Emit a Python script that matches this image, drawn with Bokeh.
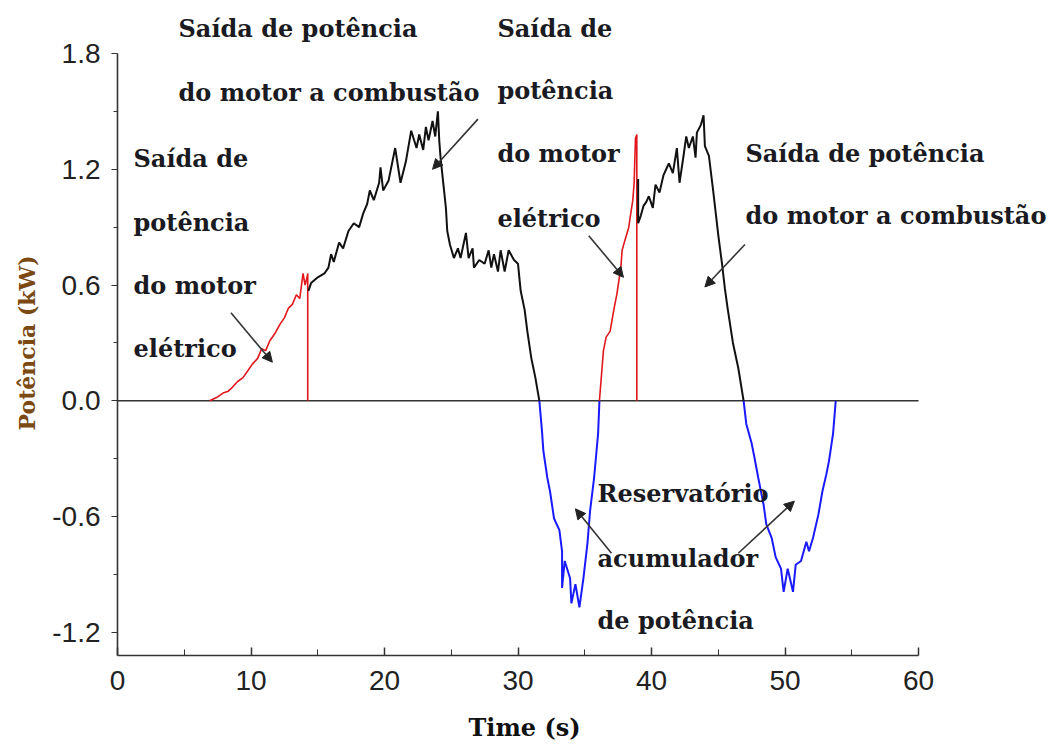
from bokeh.plotting import figure
from bokeh.models import (Label, Arrow, NormalHead, FixedTicker,
                          PrintfTickFormatter, Range1d, Title)
from bokeh.embed import file_html
from bokeh.resources import INLINE

# ---------------- data ----------------
red1_x = [6.9, 7.5, 7.9, 8.3, 8.6, 9.0, 9.4, 9.8, 10.1, 10.5, 10.8, 11.1, 11.4, 11.8,
          12.2, 12.5, 12.8, 13.1, 13.4, 13.65, 13.9, 14.05, 14.2, 14.25, 14.25]
red1_y = [0.0, 0.02, 0.04, 0.05, 0.07, 0.10, 0.12, 0.16, 0.19, 0.22, 0.27, 0.26, 0.31, 0.35,
          0.40, 0.43, 0.48, 0.50, 0.55, 0.53, 0.66, 0.60, 0.64, 0.66, 0.0]

black1_x = [14.3, 14.5, 15.0, 15.5, 15.8, 16.0, 16.2, 16.6, 16.9, 17.3, 17.7, 18.1, 18.4,
            18.7, 18.9, 19.2, 19.6, 19.7, 19.9, 20.3, 20.8, 21.2, 21.6, 22.0, 22.4, 22.6,
            22.9, 23.1, 23.3, 23.6, 23.8, 24.0, 24.1, 24.2, 24.4, 24.6, 24.7, 24.9, 25.2,
            25.5, 25.7, 26.1, 26.3, 26.6, 26.7, 27.1, 27.5, 27.8, 28.0, 28.2, 28.5, 28.7,
            29.0, 29.3, 29.7, 30.0, 30.2, 30.5, 30.7, 31.0, 31.3, 31.6]
black1_y = [0.57, 0.61, 0.64, 0.66, 0.69, 0.76, 0.72, 0.82, 0.79, 0.88, 0.92, 0.90, 0.97,
            1.02, 1.09, 1.04, 1.13, 1.21, 1.09, 1.14, 1.31, 1.13, 1.24, 1.40, 1.31, 1.38,
            1.30, 1.42, 1.35, 1.45, 1.37, 1.50, 1.35, 1.26, 1.13, 1.00, 0.88, 0.81, 0.74,
            0.79, 0.74, 0.87, 0.74, 0.79, 0.69, 0.73, 0.71, 0.78, 0.69, 0.76, 0.67, 0.78,
            0.67, 0.78, 0.73, 0.71, 0.57, 0.47, 0.36, 0.22, 0.12, 0.0]

blue1_x = [31.6, 31.8, 31.9, 32.2, 32.4, 32.7, 33.1, 33.3, 33.3, 33.5, 33.9, 34.0, 34.3,
           34.6, 34.9, 35.2, 35.4, 35.7, 36.0, 36.1]
blue1_y = [0.0, -0.16, -0.26, -0.40, -0.47, -0.61, -0.67, -0.78, -0.97, -0.83, -0.92, -1.05,
           -0.95, -1.07, -0.92, -0.74, -0.57, -0.40, -0.17, 0.0]

red2_x = [36.1, 36.4, 36.6, 36.9, 37.2, 37.4, 37.7, 37.8, 38.0, 38.3, 38.4, 38.6, 38.7,
          38.8, 38.9, 38.9]
red2_y = [0.0, 0.26, 0.33, 0.36, 0.48, 0.55, 0.69, 0.78, 0.83, 0.90, 0.95, 1.04, 1.13,
          1.36, 1.38, 0.0]

black2_x = [39.0, 39.0, 39.2, 39.4, 39.6, 39.8, 40.1, 40.3, 40.6, 40.9, 41.1, 41.3, 41.6,
            41.9, 42.1, 42.4, 42.6, 42.8, 43.1, 43.3, 43.4, 43.7, 43.9, 44.0, 44.3, 44.6,
            44.8, 45.0, 45.3, 45.5, 45.7, 46.1, 46.5, 46.9]
black2_y = [1.15, 0.92, 0.96, 1.01, 1.03, 1.06, 1.00, 1.12, 1.08, 1.17, 1.20, 1.23, 1.18,
            1.31, 1.13, 1.27, 1.37, 1.31, 1.37, 1.26, 1.39, 1.43, 1.48, 1.32, 1.27, 1.10,
            0.98, 0.86, 0.70, 0.58, 0.48, 0.30, 0.17, 0.0]

blue2_x = [46.9, 47.1, 47.5, 47.7, 48.0, 48.4, 48.6, 49.0, 49.3, 49.7, 49.9, 50.2, 50.6,
           50.8, 51.2, 51.6, 51.8, 52.1, 52.5, 52.8, 53.1, 53.3, 53.6, 53.8]
blue2_y = [0.0, -0.12, -0.22, -0.29, -0.40, -0.54, -0.64, -0.71, -0.81, -0.87, -0.99, -0.87,
           -0.99, -0.85, -0.83, -0.73, -0.78, -0.71, -0.59, -0.47, -0.38, -0.31, -0.17, 0.0]

x_ticks = [0, 10, 20, 30, 40, 50, 60]
x_minor = [5, 15, 25, 35, 45, 55]
y_ticks = [-1.2, -0.6, 0.0, 0.6, 1.2, 1.8]
y_minor = [-0.9, -0.3, 0.3, 0.9, 1.5]
x_axis_span = (0, 60)
y_axis_span = (-1.32, 1.8)
x_label = "Time (s)"
y_label = "Potência (kW)"

# annotation texts: (text lines, x, y of each line)
blocks = [
    (["Saída de potência", "do motor a combustão"], 4.57, [1.928, 1.596]),
    (["Saída de", "potência", "do motor", "elétrico"], 28.46, [1.928, 1.607, 1.280, 0.943]),
    (["Saída de", "potência", "do motor", "elétrico"], 1.20, [1.254, 0.922, 0.596, 0.270]),
    (["Saída de potência", "do motor a combustão"], 47.04, [1.280, 0.959]),
    (["Reservatório", "acumulador", "de potência"], 35.96, [-0.482, -0.819, -1.140]),
]

# arrows: (tail x, tail y, head x, head y)
arrows = [
    (8.5, 0.456, 11.6, 0.20),
    (27.0, 1.46, 23.6, 1.20),
    (35.3, 0.856, 37.9, 0.64),
    (47.0, 0.81, 44.0, 0.59),
    (37.0, -0.79, 34.3, -0.56),
    (46.5, -0.79, 50.7, -0.52),
]

# ---------------- figure ----------------
PX_X = 801 / 60.0       # pixels per second
PX_Y = 602 / 3.12       # pixels per kW
FW, FH = 930, 655
p = figure(frame_width=FW, frame_height=FH, output_backend="svg",
           toolbar_location=None,
           x_range=Range1d(0, FW / PX_X),
           y_range=Range1d(y_axis_span[0], y_axis_span[0] + FH / PX_Y),
           min_border_left=117, min_border_right=0, min_border_top=0,
           min_border_bottom=88)
p.outline_line_color = None
p.xgrid.visible = False
p.ygrid.visible = False
p.background_fill_color = "white"
p.border_fill_color = "white"

# zero reference line across the axis span
p.line(list(x_axis_span), [0, 0], line_color="#333333", line_width=1.6)

p.line(red1_x, red1_y, line_color="#e0181c", line_width=1.6)
p.line(black1_x, black1_y, line_color="#111111", line_width=2)
p.line(blue1_x, blue1_y, line_color="#1a1aff", line_width=2)
p.line(red2_x, red2_y, line_color="#e0181c", line_width=1.6)
p.line(black2_x, black2_y, line_color="#111111", line_width=2)
p.line(blue2_x, blue2_y, line_color="#1a1aff", line_width=2)

for lines, bx, ys in blocks:
    for t, yy in zip(lines, ys):
        p.add_layout(Label(x=bx, y=yy, text=t, text_font="DejaVu Serif",
                           text_font_style="bold", text_font_size="24px",
                           text_color="#1a1a22", text_baseline="middle",
                           text_align="left"))

for tx, ty, hx, hy in arrows:
    p.add_layout(Arrow(x_start=tx, y_start=ty, x_end=hx, y_end=hy,
                       line_color="#333333", line_width=1.6,
                       end=NormalHead(size=10, fill_color="#222222",
                                      line_color="#222222")))

# axes
xa = p.xaxis[0]
xa.bounds = x_axis_span
xa.ticker = FixedTicker(ticks=x_ticks, minor_ticks=x_minor)
xa.major_label_text_font = "Liberation Sans"
xa.major_label_text_font_size = "28px"
xa.major_label_text_color = "#222222"
xa.major_label_standoff = 15
xa.major_tick_in = 8
xa.major_tick_out = 0
xa.minor_tick_in = 6
xa.minor_tick_out = 0
xa.axis_line_color = "#333333"
xa.axis_line_width = 1.6
xa.major_tick_line_color = "#333333"
xa.minor_tick_line_color = "#333333"
xa.major_tick_line_width = 1.5

ya = p.yaxis[0]
ya.bounds = y_axis_span
ya.ticker = FixedTicker(ticks=y_ticks, minor_ticks=y_minor)
ya.formatter = PrintfTickFormatter(format="%.1f")
ya.major_label_text_font = "Liberation Sans"
ya.major_label_text_font_size = "28px"
ya.major_label_text_color = "#222222"
ya.major_label_standoff = 11
ya.major_tick_in = 0
ya.major_tick_out = 6
ya.minor_tick_in = 0
ya.minor_tick_out = 4
ya.axis_line_color = "#333333"
ya.axis_line_width = 1.6
ya.major_tick_line_color = "#333333"
ya.minor_tick_line_color = "#333333"

# axis titles, centred on the axis span rather than on the whole frame
p.add_layout(Title(text=x_label, align="left", offset=351, standoff=36,
                   text_font="DejaVu Serif", text_font_style="bold",
                   text_font_size="24px", text_color="#111111"), "below")
p.add_layout(Title(text=y_label, align="left", offset=225, standoff=20,
                   text_font="DejaVu Serif", text_font_style="bold",
                   text_font_size="22px", text_color="#7a4a12"), "left")

open("out.html", "w").write(file_html(p, INLINE))
